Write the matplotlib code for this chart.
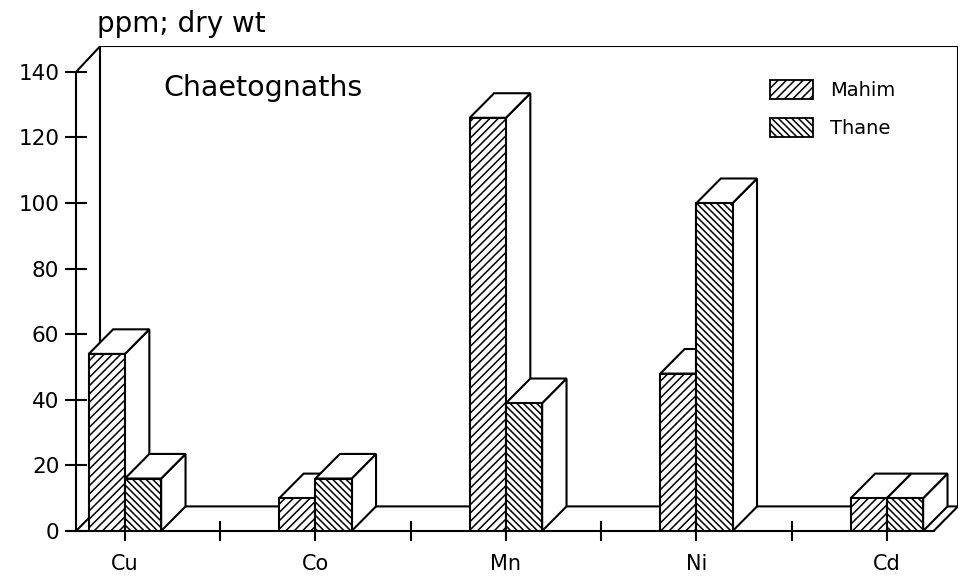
import numpy as np
import matplotlib.pyplot as plt
from matplotlib.patches import Polygon, Rectangle, Patch

# data (ppm; dry wt)
metals = ["Cu", "Co", "Mn", "Ni", "Cd"]
mahim = [54, 10, 126, 48, 10]
thane = [16, 16, 39, 100, 10]

W = 0.19      # bar width (category units)
DX = 0.128    # depth offset in x
DY = 7.5      # depth offset in y (ppm)
XMIN, XMAX = -0.257, 4.373
YTOP = 140 + DY + 0.4

plt.rcParams['hatch.linewidth'] = 1.1
plt.rcParams['font.family'] = ['DejaVu Sans']

fig = plt.figure(figsize=(9.64, 5.78), dpi=100)
ax = fig.add_axes([76 / 964, 47 / 578, 882 / 964, 485 / 578])
ax.set_xlim(XMIN, XMAX)
ax.set_ylim(0, YTOP)

lw = 1.5
k = dict(color='black', lw=lw, zorder=0.8)
# back wall and floor
ax.plot([XMIN, XMIN + DX, XMAX, XMAX], [140, YTOP, YTOP, DY], **k)
ax.plot([XMIN + DX, XMIN + DX], [DY, YTOP], **k)
ax.plot([XMIN, XMIN + DX, XMAX], [0, DY, DY], **k)
ax.plot([XMAX - DX, XMAX], [0, DY], **k)


def bar3d(x0, h, hatch):
    x1 = x0 + W
    front = Rectangle((x0, 0), W, h, facecolor='white', edgecolor='black',
                      hatch=hatch, lw=lw, zorder=2)
    top = Polygon([(x0, h), (x0 + DX, h + DY), (x1 + DX, h + DY), (x1, h)],
                  closed=True, facecolor='white', edgecolor='black', lw=lw, zorder=2)
    side = Polygon([(x1, 0), (x1 + DX, DY), (x1 + DX, h + DY), (x1, h)],
                   closed=True, facecolor='white', edgecolor='black', lw=lw, zorder=2)
    for p in (side, top, front):
        ax.add_patch(p)


for i in range(len(metals)):
    bar3d(i - W, mahim[i], '////')
    bar3d(i, thane[i], '\\\\\\\\\\')

for s in ['top', 'right']:
    ax.spines[s].set_visible(False)
ax.spines['left'].set_bounds(0, 140)
ax.spines['bottom'].set_bounds(XMIN, XMAX - DX)
for s in ['left', 'bottom']:
    ax.spines[s].set_linewidth(lw)
    ax.spines[s].set_zorder(0.9)
ax.set_axisbelow(True)

ax.set_yticks(np.arange(0, 141, 20))
ax.set_xticks(range(len(metals)))
ax.set_xticklabels(metals)
ax.set_xticks(np.arange(0.5, len(metals) - 1, 1), minor=True)
ax.tick_params(axis='y', direction='inout', length=16, width=lw, labelsize=15.5, pad=4)
ax.tick_params(axis='x', which='both', direction='inout', length=15, width=lw,
               labelsize=15, pad=9)

fig.text(97 / 964, 1 - 24 / 578, "ppm; dry wt", fontsize=20, va='center', ha='left')
ax.text(0.099, 0.913, "Chaetognaths", transform=ax.transAxes, fontsize=20.5,
        va='center', ha='left')

handles = [Patch(facecolor='white', edgecolor='black', hatch='////', lw=1.3),
           Patch(facecolor='white', edgecolor='black', hatch='\\\\\\\\\\', lw=1.3)]
ax.legend(handles, ["Mahim", "Thane"], loc='upper left', bbox_to_anchor=(0.787, 0.93),
          frameon=False, fontsize=14, handlelength=2.2, handleheight=1.1,
          handletextpad=0.9, labelspacing=0.95, borderpad=0, borderaxespad=0)

fig.savefig("out.png", dpi=100)
